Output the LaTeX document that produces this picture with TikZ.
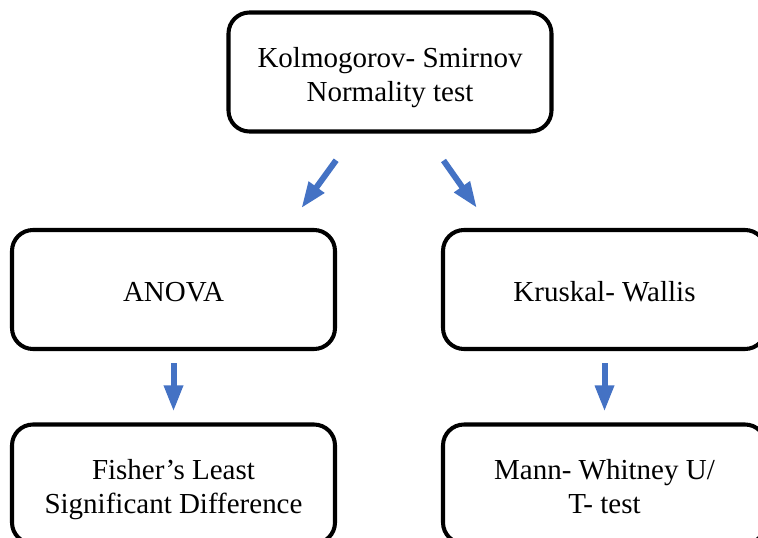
\documentclass[tikz,border=0pt]{standalone}
\usepackage{fontspec}
\setmainfont{Liberation Serif}
\usetikzlibrary{arrows.meta}

\definecolor{arrowblue}{HTML}{4472C4}
\newcommand{\lineup}{\rule{0pt}{18pt}}

\tikzset{
    testbox/.style={draw=black, line width=2.3pt, rounded corners=0.42cm,
        minimum width=6.46cm, minimum height=2.38cm, align=center,
        font=\fontsize{16.5}{19.5}\selectfont,
        execute at end node={\rule[-3.8pt]{0pt}{3.8pt}}},
    bluearrow/.style={draw=arrowblue, line width=0.12cm,
        -{Triangle[width=0.36cm,length=0.52cm]}}
}

\begin{document}
\begin{tikzpicture}
            \useasboundingbox (0,0) rectangle (15.16,-10.74);
            \node[testbox] (ks) at (7.8,-1.44) {\lineup Kolmogorov- Smirnov\\Normality test};
            \node[testbox] (anova) at (3.47,-5.79) {\lineup ANOVA};
            \node[testbox] (kruskal) at (12.09,-5.79) {\lineup Kruskal- Wallis};
            \node[testbox] (fisher) at (3.47,-9.68) {\lineup Fisher's Least\\Significant Difference};
            \node[testbox] (mann) at (12.09,-9.68) {\lineup Mann- Whitney U/\\T- test};
            % arrows
            \draw[bluearrow, shorten <=0.66cm, shorten >=0.49cm] ([xshift=-0.69cm]ks.south) -- ([xshift=2.27cm]anova.north);
            \draw[bluearrow, shorten <=0.66cm, shorten >=0.49cm] ([xshift=0.69cm]ks.south) -- ([xshift=-2.27cm]kruskal.north);
            \draw[bluearrow, shorten <=0.24cm, shorten >=0.22cm] (anova.south) -- (fisher.north);
            \draw[bluearrow, shorten <=0.24cm, shorten >=0.22cm] (kruskal.south) -- (mann.north);
        \end{tikzpicture}
\end{document}
